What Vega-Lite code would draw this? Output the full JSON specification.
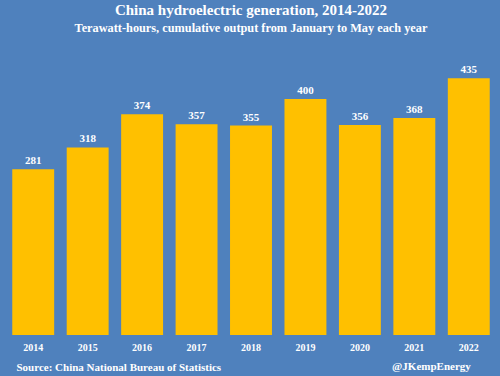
{
  "$schema": "https://vega.github.io/schema/vega-lite/v6.json",
  "autosize": "none",
  "width": 490,
  "height": 295,
  "padding": {"left": 6, "top": 40, "right": 4, "bottom": 41},
  "background": "#4F81BD",
  "config": {
    "view": {"stroke": null},
    "font": "Liberation Serif"
  },
  "title": {
    "text": "China hydroelectric generation, 2014-2022",
    "subtitle": "Terawatt-hours, cumulative output from January to May each year",
    "anchor": "middle",
    "color": "white",
    "subtitleColor": "white",
    "font": "Liberation Serif",
    "subtitleFont": "Liberation Serif",
    "fontSize": 15,
    "subtitleFontSize": 12.3,
    "fontWeight": "bold",
    "subtitleFontWeight": "bold",
    "subtitlePadding": 4,
    "offset": 6
  },
  "layer": [
    {
      "data": {
        "values": [
          {"year": "2014", "twh": 281},
          {"year": "2015", "twh": 318},
          {"year": "2016", "twh": 374},
          {"year": "2017", "twh": 357},
          {"year": "2018", "twh": 355},
          {"year": "2019", "twh": 400},
          {"year": "2020", "twh": 356},
          {"year": "2021", "twh": 368},
          {"year": "2022", "twh": 435}
        ]
      },
      "encoding": {
        "x": {
          "field": "year",
          "type": "ordinal",
          "scale": {"paddingInner": 0.23, "paddingOuter": 0.115},
          "axis": {
            "title": "Source: China National Bureau of Statistics",
            "titleAnchor": "start",
            "titleAlign": "left",
            "titleX": 10,
            "titleY": 35,
            "titleBaseline": "alphabetic",
            "titleColor": "white",
            "titleFont": "Liberation Serif",
            "titleFontSize": 11,
            "titleFontWeight": "bold",
            "labelAngle": 0,
            "labelColor": "white",
            "labelFont": "Liberation Serif",
            "labelFontSize": 10,
            "labelFontWeight": "bold",
            "labelPadding": 7,
            "ticks": false,
            "domain": false
          }
        },
        "y": {
          "field": "twh",
          "type": "quantitative",
          "scale": {"domain": [0, 500], "nice": false},
          "axis": null
        }
      },
      "layer": [
        {"mark": {"type": "bar", "color": "#FFC000"}},
        {
          "mark": {
            "type": "text",
            "color": "white",
            "font": "Liberation Serif",
            "fontSize": 11,
            "fontWeight": "bold",
            "baseline": "alphabetic",
            "dy": -5
          },
          "encoding": {"text": {"field": "twh", "type": "quantitative"}}
        }
      ]
    },
    {
      "data": {"values": [{"year": "2022", "twh": 0, "handle": "@JKempEnergy"}]},
      "mark": {
        "type": "text",
        "color": "white",
        "font": "Liberation Serif",
        "fontSize": 11,
        "fontWeight": "bold",
        "align": "right",
        "baseline": "alphabetic",
        "dx": 2,
        "dy": 35
      },
      "encoding": {
        "x": {"field": "year", "type": "ordinal"},
        "y": {"field": "twh", "type": "quantitative"},
        "text": {"field": "handle"}
      }
    }
  ]
}
